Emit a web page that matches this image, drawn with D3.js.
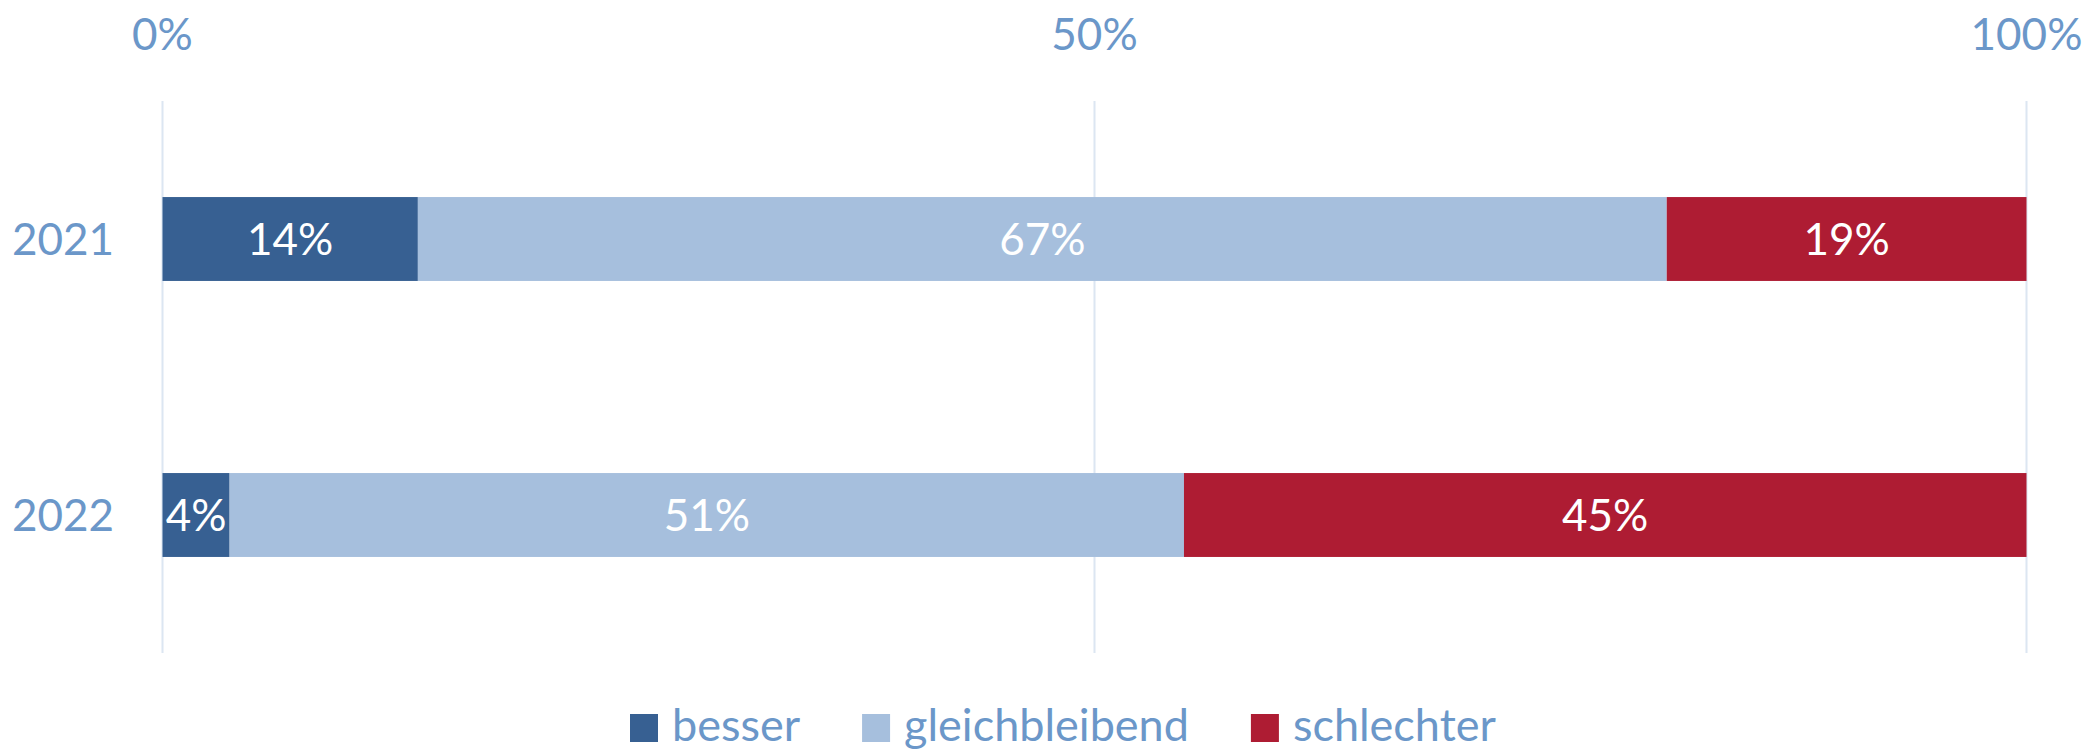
<!DOCTYPE html>
<head>
<meta charset="utf-8">
<title>besser / gleichbleibend / schlechter</title>
<style>
body {
  margin: 0;
  padding: 0;
  background: #fff;
  font-family: Lato, "Open Sans", sans-serif;
}
.grid line {
  stroke: #dce6f2;
  stroke-width: 2;
}
.tick-label, .cat-label {
  fill: #6b97c9;
  font-size: 44px;
}
.legend text {
  fill: #6b97c9;
  font-size: 45px;
}
.value-label {
  fill: #fff;
  font-size: 44px;
}
</style>
</head>
<body>
<svg id="viz" width="2087" height="749"></svg>
<script src="https://d3js.org/d3.v7.min.js"></script>
<script>

// data
var years = ['2021', '2022']
var series = ['besser', 'gleichbleibend', 'schlechter']
var besser = [13.7, 3.6]
var gleichbleibend = [67.0, 51.2]
var schlechter = [19.3, 45.2]
var ticks = [0, 50, 100]
var colors = ['#376092', '#a6bfdd', '#ae1c33']

var svg = d3.select('#viz')

var x = d3.scaleLinear().domain([0, 100]).range([162.5, 2026.5])
var y = d3.scaleBand().domain(years).range([101, 653])
    .paddingInner(0.696).paddingOuter(0.348)

// gridlines
svg.append('g')
    .attr('class', 'grid')
  .selectAll('line')
  .data(ticks)
  .enter().append('line')
    .attr('x1', function(d) { return x(d) })
    .attr('x2', function(d) { return x(d) })
    .attr('y1', 101)
    .attr('y2', 653)

// tick labels on top
svg.append('g')
  .selectAll('text')
  .data(ticks)
  .enter().append('text')
    .attr('class', 'tick-label')
    .attr('x', function(d) { return x(d) })
    .attr('y', 50)
    .attr('text-anchor', 'middle')
    .text(function(d) { return d + '%' })

// category labels
svg.append('g')
  .selectAll('text')
  .data(years)
  .enter().append('text')
    .attr('class', 'cat-label')
    .attr('x', 114)
    .attr('y', function(d) { return y(d) + y.bandwidth() / 2 })
    .attr('dy', '0.36em')
    .attr('text-anchor', 'end')
    .text(function(d) { return d })

// stack the series
var rows = years.map(function(yr, i) {
  return { year: yr, besser: besser[i], gleichbleibend: gleichbleibend[i], schlechter: schlechter[i] }
})
var stacked = d3.stack().keys(series)(rows)

var layer = svg.append('g')
  .selectAll('g')
  .data(stacked)
  .enter().append('g')
    .attr('fill', function(d, i) { return colors[i] })

layer.selectAll('rect')
  .data(function(d) { return d })
  .enter().append('rect')
    .attr('x', function(d) { return x(d[0]) })
    .attr('width', function(d) { return x(d[1]) - x(d[0]) })
    .attr('y', function(d) { return y(d.data.year) })
    .attr('height', y.bandwidth())

layer.selectAll('text')
  .data(function(d) { return d })
  .enter().append('text')
    .attr('class', 'value-label')
    .attr('x', function(d) { return (x(d[0]) + x(d[1])) / 2 })
    .attr('y', function(d) { return y(d.data.year) + y.bandwidth() / 2 })
    .attr('dy', '0.36em')
    .attr('text-anchor', 'middle')
    .text(function(d) { return Math.round(d[1] - d[0]) + '%' })

// legend
var legend = svg.append('g').attr('class', 'legend')
var lx = 630
series.forEach(function(s, i) {
  legend.append('rect')
    .attr('x', lx)
    .attr('y', 714)
    .attr('width', 28)
    .attr('height', 28)
    .attr('fill', colors[i])
  var t = legend.append('text')
    .attr('x', lx + 42)
    .attr('y', 741)
    .text(s)
  lx = lx + 42 + t.node().getComputedTextLength() + 62
})

</script>
</body>
</html>
